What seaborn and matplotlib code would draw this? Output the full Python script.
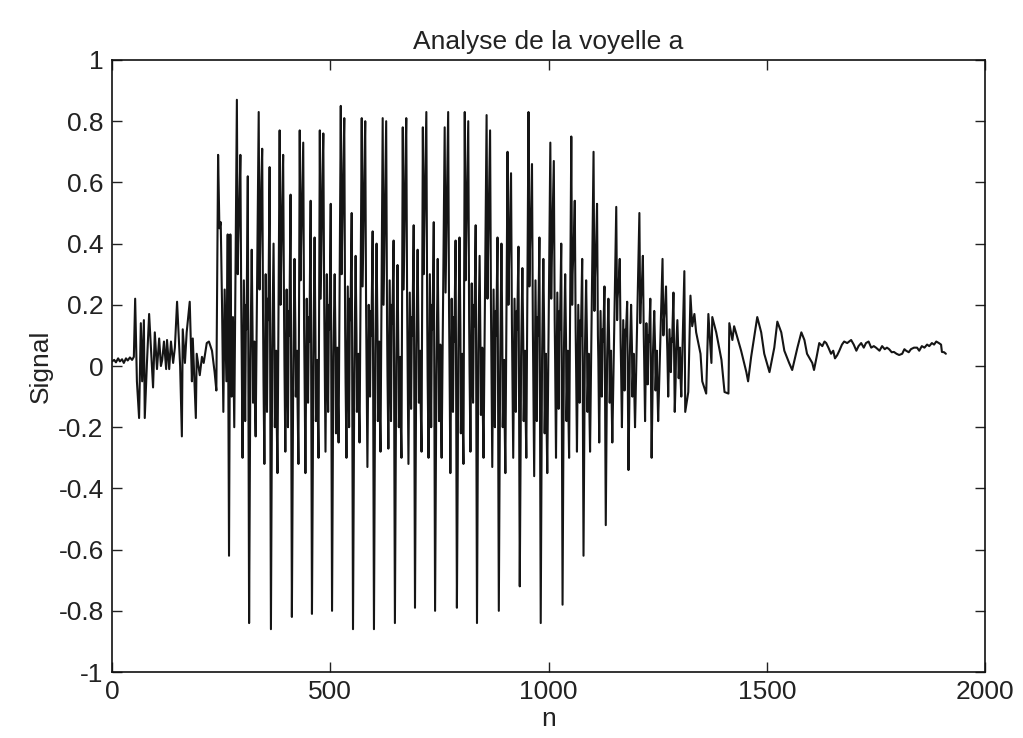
import numpy as np
import pandas as pd
import matplotlib
matplotlib.use("Agg")
import matplotlib.pyplot as plt
import seaborn as sns

# --- données --------------------------------------------------------
# début du signal (silence, bruit puis attaque)
onset_n = [0, 5, 9, 14, 18, 23, 27, 32, 36, 41, 46, 50, 53, 57, 62, 66, 69, 73, 75,
           80, 85, 91, 94, 98, 103, 108, 112, 115, 119, 124, 126, 131, 135, 140, 144,
           149, 156, 160, 162, 167, 171, 178, 183, 185, 192, 194, 201, 206, 210, 217,
           222, 229, 235, 239,
           243, 246, 249, 252, 255, 258, 262, 265, 268, 271, 274, 277, 280]
onset_v = [0.015, 0.02, 0.012, 0.025, 0.015, 0.022, 0.01, 0.025, 0.018, 0.028, 0.02,
           0.03, 0.22, -0.05, -0.17, 0.14, -0.05, 0.15, -0.17,
           0.01, 0.17, 0.01, -0.07, 0.11, -0.01, 0.09, 0.0, 0.02, 0.08, -0.01, 0.085,
           -0.01, 0.08, 0.01, 0.06, 0.21, 0.0, -0.23, 0.12, 0.01, 0.11, 0.21, -0.05,
           0.09, -0.17, 0.04, -0.03, 0.03, 0.01, 0.075, 0.08, 0.05, -0.02, -0.08,
           0.69, 0.45, 0.47, 0.20, -0.15, 0.25, -0.05, 0.43, -0.62, 0.43, -0.10, 0.16, -0.20]

# périodes voisées : début de chaque période et points de la période
period_start = [286, 336, 384, 430, 476, 524, 572, 620, 666, 712, 762,
                808, 858, 906, 954, 1004, 1052, 1103, 1155, 1208, 1261]
period_offsets = [0, 2, 3, 6, 8, 10, 11, 13, 15, 16, 18, 19, 21, 22, 25, 28,
                  30, 31, 34, 36, 37, 40, 41, 43]
period_values = [
    [0.87, 0.30, 0.40, 0.55, 0.69, 0.20, 0.05, -0.30, 0.10, 0.28, -0.05, -0.18, 0.20, 0.12, 0.62, -0.84, -0.30, 0.02, 0.38, 0.10, -0.12, 0.08, -0.10, -0.23],
    [0.83, 0.25, 0.35, 0.60, 0.71, 0.15, -0.05, -0.32, 0.05, 0.30, 0.00, -0.15, 0.22, 0.15, 0.65, -0.86, -0.25, 0.05, 0.40, 0.05, -0.20, 0.05, -0.15, -0.35],
    [0.77, 0.20, 0.30, 0.55, 0.69, 0.18, 0.00, -0.28, 0.08, 0.25, -0.02, -0.20, 0.18, 0.10, 0.56, -0.82, -0.28, -0.05, 0.35, 0.12, -0.10, 0.05, -0.12, -0.32],
    [0.77, 0.28, 0.38, 0.60, 0.73, 0.12, -0.02, -0.35, 0.06, 0.22, 0.02, -0.12, 0.16, 0.08, 0.54, -0.81, -0.32, 0.00, 0.42, 0.08, -0.18, 0.02, -0.12, -0.30],
    [0.77, 0.22, 0.32, 0.62, 0.76, 0.20, 0.05, -0.28, 0.10, 0.30, -0.04, -0.15, 0.20, 0.12, 0.53, -0.80, -0.26, 0.03, 0.30, 0.06, -0.22, 0.06, -0.08, -0.25],
    [0.85, 0.30, 0.40, 0.66, 0.81, 0.12, -0.05, -0.30, 0.05, 0.26, -0.06, -0.20, 0.22, 0.15, 0.50, -0.86, -0.30, -0.02, 0.36, 0.10, -0.15, 0.04, -0.10, -0.25],
    [0.81, 0.26, 0.36, 0.64, 0.80, 0.18, 0.00, -0.33, 0.04, 0.20, 0.02, -0.10, 0.18, 0.10, 0.44, -0.86, -0.28, 0.04, 0.40, 0.12, -0.18, 0.08, -0.12, -0.28],
    [0.81, 0.20, 0.30, 0.62, 0.80, 0.14, -0.03, -0.27, 0.08, 0.28, -0.05, -0.18, 0.20, 0.14, 0.41, -0.84, -0.30, 0.00, 0.33, 0.04, -0.20, 0.03, -0.15, -0.30],
    [0.78, 0.25, 0.35, 0.65, 0.81, 0.20, 0.04, -0.32, 0.05, 0.24, 0.00, -0.14, 0.16, 0.10, 0.46, -0.79, -0.25, 0.05, 0.38, 0.10, -0.12, 0.05, -0.12, -0.28],
    [0.78, 0.30, 0.42, 0.66, 0.83, 0.15, -0.04, -0.30, 0.08, 0.30, -0.04, -0.20, 0.20, 0.12, 0.47, -0.80, -0.30, -0.03, 0.35, 0.08, -0.18, 0.07, -0.14, -0.30],
    [0.78, 0.24, 0.34, 0.64, 0.83, 0.18, 0.02, -0.35, 0.04, 0.22, 0.00, -0.15, 0.16, 0.08, 0.41, -0.79, -0.32, 0.02, 0.42, 0.12, -0.22, 0.04, -0.15, -0.32],
    [0.83, 0.28, 0.38, 0.62, 0.80, 0.15, -0.02, -0.28, 0.08, 0.27, -0.03, -0.12, 0.20, 0.13, 0.46, -0.84, -0.28, 0.04, 0.36, 0.06, -0.16, 0.06, -0.12, -0.30],
    [0.82, 0.22, 0.33, 0.60, 0.77, 0.20, 0.03, -0.33, 0.06, 0.25, -0.06, -0.20, 0.18, 0.10, 0.42, -0.80, -0.30, -0.02, 0.40, 0.10, -0.20, 0.02, -0.15, -0.35],
    [0.70, 0.20, 0.30, 0.50, 0.63, 0.14, 0.00, -0.30, 0.05, 0.22, -0.02, -0.15, 0.18, 0.12, 0.39, -0.72, -0.26, 0.03, 0.32, 0.08, -0.18, 0.05, -0.12, -0.30],
    [0.83, 0.26, 0.36, 0.52, 0.66, 0.12, -0.03, -0.36, 0.06, 0.28, -0.04, -0.18, 0.16, 0.10, 0.42, -0.84, -0.30, 0.02, 0.35, 0.10, -0.22, 0.04, -0.15, -0.35],
    [0.73, 0.22, 0.32, 0.52, 0.67, 0.15, 0.02, -0.30, 0.05, 0.24, -0.02, -0.14, 0.18, 0.12, 0.40, -0.78, -0.26, 0.04, 0.30, 0.08, -0.18, 0.05, -0.12, -0.30],
    [0.75, 0.20, 0.30, 0.42, 0.54, 0.12, 0.00, -0.28, 0.04, 0.20, -0.03, -0.12, 0.15, 0.10, 0.35, -0.62, -0.22, 0.03, 0.28, 0.08, -0.15, 0.04, -0.10, -0.28],
    [0.70, 0.18, 0.28, 0.40, 0.53, 0.10, 0.02, -0.25, 0.04, 0.18, -0.02, -0.10, 0.12, 0.08, 0.26, -0.52, -0.18, 0.02, 0.22, 0.06, -0.12, 0.05, -0.08, -0.25],
    [0.52, 0.15, 0.22, 0.28, 0.35, 0.08, 0.00, -0.20, 0.04, 0.15, 0.00, -0.08, 0.12, 0.10, 0.21, -0.34, -0.12, 0.03, 0.20, 0.06, -0.10, 0.04, -0.06, -0.20],
    [0.50, 0.14, 0.20, 0.28, 0.36, 0.10, 0.02, -0.18, 0.04, 0.14, 0.02, -0.06, 0.10, 0.08, 0.22, -0.30, -0.10, 0.04, 0.18, 0.06, -0.08, 0.05, -0.05, -0.18],
    [0.35, 0.10, 0.15, 0.20, 0.26, 0.10, 0.05, -0.10, 0.05, 0.12, 0.03, -0.02, 0.09, 0.08, 0.24, -0.15, -0.05, 0.05, 0.15, 0.05, -0.04, 0.06, -0.03, -0.10],
]

# fin du signal (décroissance)
tail_n = [1311, 1313, 1320, 1325, 1329, 1334, 1338, 1348, 1352, 1361, 1366, 1373, 1375,
          1384, 1396, 1403, 1412, 1414, 1421, 1425, 1441, 1453, 1457, 1464, 1471, 1478,
          1487, 1494, 1506, 1517, 1524, 1533, 1540, 1551, 1558, 1570, 1579, 1586, 1592,
          1604, 1608, 1614, 1620, 1627, 1632, 1636, 1641, 1647, 1652, 1656, 1661, 1666,
          1672, 1677, 1684, 1693, 1699, 1705, 1710, 1716, 1722, 1727, 1733, 1739, 1745,
          1750, 1758, 1764, 1770, 1775, 1780, 1786, 1791, 1797, 1803, 1810, 1815, 1819,
          1825, 1830, 1837, 1844, 1849, 1855, 1861, 1867, 1872, 1878, 1883, 1888, 1894,
          1899, 1901, 1906, 1910]
tail_v = [0.31, -0.15, -0.085, 0.23, 0.13, 0.17, 0.11, 0.04, -0.05, -0.09, 0.17, 0.01, 0.16,
          0.11, 0.02, -0.085, -0.09, 0.14, 0.085, 0.13, 0.05, -0.02, -0.05, 0.03, 0.095, 0.16,
          0.11, 0.04, -0.02, 0.06, 0.145, 0.11, 0.05, 0.01, -0.013, 0.06, 0.11, 0.085, 0.04,
          0.01, -0.013, 0.03, 0.075, 0.065, 0.08, 0.075, 0.06, 0.04, 0.05, 0.025, 0.035, 0.05,
          0.07, 0.08, 0.075, 0.085, 0.07, 0.05, 0.065, 0.075, 0.06, 0.075, 0.08, 0.06, 0.065,
          0.06, 0.05, 0.065, 0.055, 0.06, 0.055, 0.045, 0.046, 0.04, 0.036, 0.04, 0.055, 0.05,
          0.045, 0.055, 0.06, 0.06, 0.05, 0.065, 0.06, 0.07, 0.065, 0.075, 0.07, 0.08, 0.075,
          0.07, 0.046, 0.045, 0.04]

xticks = [0, 500, 1000, 1500, 2000]
xtick_labels = ["0", "500", "1000", "1500", "2000"]
yticks = [-1, -0.8, -0.6, -0.4, -0.2, 0, 0.2, 0.4, 0.6, 0.8, 1]
ytick_labels = ["-1", "-0.8", "-0.6", "-0.4", "-0.2", "0", "0.2", "0.4", "0.6", "0.8", "1"]

# --- assemblage du signal --------------------------------------------
n_all = list(onset_n)
v_all = list(onset_v)
for start, vals in zip(period_start, period_values):
    n_all += [start + o for o in period_offsets]
    v_all += vals
n_all += tail_n
v_all += tail_v

df = pd.DataFrame({"n": n_all, "Signal": v_all})

# --- figure -----------------------------------------------------------
sns.set_style("ticks")
plt.rcParams["font.family"] = ["Liberation Sans", "DejaVu Sans"]

fig = plt.figure(figsize=(10.23, 7.38), dpi=100)
ax = fig.add_axes([0.1095, 0.0894, 0.8535, 0.8293])

sns.lineplot(data=df, x="n", y="Signal", ax=ax, color="#151515", lw=1.5,
             estimator=None, sort=False)

ax.set_xlim(0, 2000)
ax.set_ylim(-1, 1)
ax.set_xticks(xticks)
ax.set_xticklabels(xtick_labels)
ax.set_yticks(yticks)
ax.set_yticklabels(ytick_labels)
ax.tick_params(direction="in", top=True, right=True, length=7, width=1,
               labelsize=19, pad=6, colors="#222222")
for s in ax.spines.values():
    s.set_visible(True)
    s.set_linewidth(1.2)
    s.set_color("#111111")

ax.set_title("Analyse de la voyelle a", fontsize=19, pad=8, color="#222222")
ax.set_xlabel("n", fontsize=19, labelpad=2, color="#222222")
ax.set_ylabel("Signal", fontsize=19, labelpad=4, color="#222222")

fig.savefig("out.png", dpi=100)
